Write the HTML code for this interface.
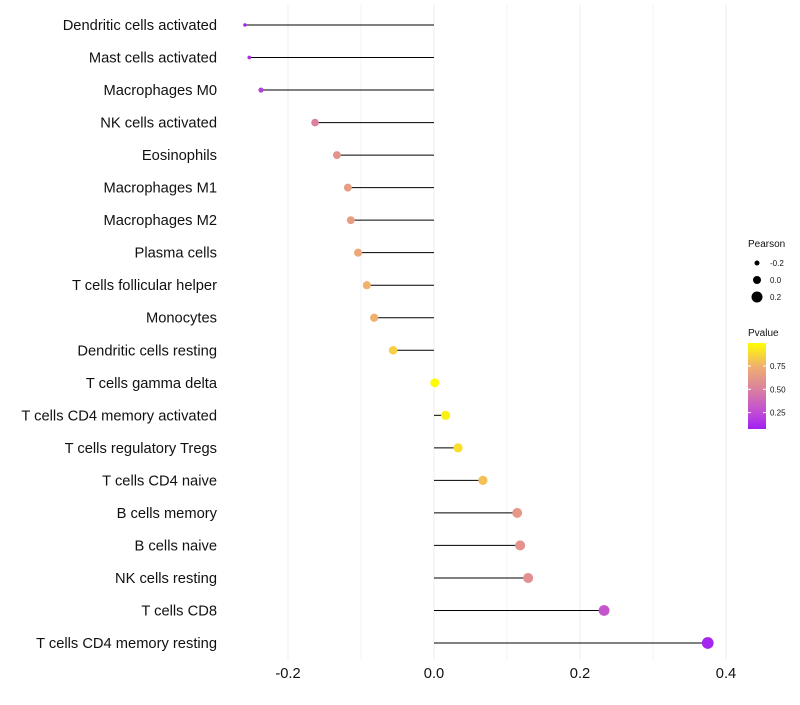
<!DOCTYPE html>
<html><head><meta charset="utf-8"><style>
body{margin:0;background:#fff;font-family:"Liberation Sans",sans-serif}
</style></head><body>
<svg id="chart" width="800" height="700" xmlns="http://www.w3.org/2000/svg"></svg>
<script>
const categories=["Dendritic cells activated","Mast cells activated","Macrophages M0","NK cells activated","Eosinophils","Macrophages M1","Macrophages M2","Plasma cells","T cells follicular helper","Monocytes","Dendritic cells resting","T cells gamma delta","T cells CD4 memory activated","T cells regulatory  Tregs ","T cells CD4 naive","B cells memory","B cells naive","NK cells resting","T cells CD8","T cells CD4 memory resting"];
const pearson=[-0.259,-0.253,-0.237,-0.163,-0.133,-0.118,-0.114,-0.104,-0.092,-0.082,-0.056,0.001,0.016,0.033,0.067,0.114,0.118,0.129,0.233,0.375];
const sizeValue=[-0.26,-0.24,-0.15,0.0,0.02,0.02,0.02,0.03,0.03,0.04,0.06,0.08,0.1,0.1,0.1,0.14,0.15,0.15,0.2,0.26];
const pvalues=[0.1,0.15,0.2,0.5,0.6,0.65,0.65,0.7,0.75,0.75,0.85,0.99,0.95,0.9,0.8,0.62,0.6,0.58,0.3,0.1];
const xTicks=[-0.2,0,0.2,0.4];
const xTickLabels=["-0.2","0.0","0.2","0.4"];
const gridVals=[-0.2,-0.1,0,0.1,0.2,0.3,0.4];
const NS="http://www.w3.org/2000/svg";
const svg=document.getElementById('chart');
const x=v=>434+v*730;
const y=i=>25+i*(618/19);
const r=v=>Math.max(1.5,3.8+8*v);
const stops=[[0.078,[160,32,240]],[0.25,[192,74,216]],[0.5,[218,128,160]],[0.75,[240,176,110]],[1,[255,255,0]]];
function col(p){if(p<=stops[0][0])return 'rgb('+stops[0][1]+')';for(let k=1;k<stops.length;k++){if(p<=stops[k][0]){const a=stops[k-1],b=stops[k],t=(p-a[0])/(b[0]-a[0]);return 'rgb('+a[1].map((c,j)=>Math.round(c+(b[1][j]-c)*t)).join(',')+')';}}return 'rgb(255,255,0)';}
function el(t,at){const e=document.createElementNS(NS,t);for(const k in at)e.setAttribute(k,at[k]);svg.appendChild(e);return e;}
gridVals.forEach(v=>{const g=el('line',{x1:x(v),x2:x(v),y1:5,y2:660,stroke:'#f0f0f0','stroke-width':xTicks.includes(v)?1.2:0.8});

});
xTicks.forEach((v,i)=>{const t=el('text',{x:x(v),y:678,'text-anchor':'middle','font-size':14.7,fill:'#111'});t.textContent=xTickLabels[i];

});
categories.forEach((c,i)=>{
const t=el('text',{x:217,y:y(i)+5,'text-anchor':'end','font-size':14.7,fill:'#111'});t.textContent=c;


const l=el('line',{x1:x(0),x2:x(pearson[i]),y1:y(i),y2:y(i),stroke:'#000','stroke-width':1});


const p=el('circle',{cx:x(pearson[i]),cy:y(i),r:r(sizeValue[i]),fill:col(pvalues[i])});


});
const lt=el('text',{x:748,y:247,'font-size':10,fill:'#111'});lt.textContent='Pearson';


[-0.2,0,0.2].forEach((v,k)=>{const cy=263+k*17;
const c=el('circle',{cx:757,cy:cy,r:[2.5,4,5.5][k],fill:'#000'});


const t=el('text',{x:770,y:cy+3,'font-size':8,fill:'#111'});t.textContent=['-0.2','0.0','0.2'][k];

});
const pt=el('text',{x:748,y:336,'font-size':10,fill:'#111'});pt.textContent='Pvalue';


const defs=el('defs',{});const lg=document.createElementNS(NS,'linearGradient');lg.setAttribute('id','pg');lg.setAttribute('x1','0');lg.setAttribute('y1','1');lg.setAttribute('x2','0');lg.setAttribute('y2','0');defs.appendChild(lg);
stops.forEach(s=>{const st=document.createElementNS(NS,'stop');st.setAttribute('offset',(s[0]-0.078)/(0.997-0.078));st.setAttribute('stop-color','rgb('+s[1]+')');lg.appendChild(st);});
const bar=el('rect',{x:748,y:343,width:18,height:86,fill:'url(#pg)'});


[0.75,0.5,0.25].forEach(v=>{const yy=366+(0.75-v)/0.25*23.3;
el('line',{x1:748,x2:751,y1:yy,y2:yy,stroke:'#fff'});el('line',{x1:763,x2:766,y1:yy,y2:yy,stroke:'#fff'});
const t=el('text',{x:770,y:yy+3,'font-size':8,fill:'#111'});t.textContent=v.toFixed(2);

});
</script>
</body></html>
